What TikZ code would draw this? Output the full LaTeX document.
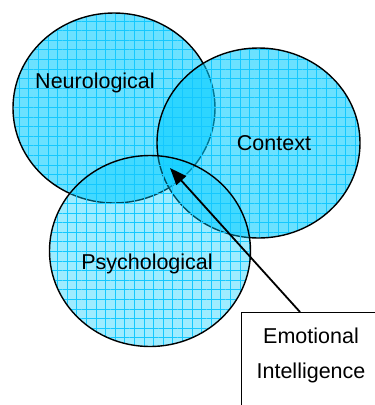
\documentclass[tikz,border=0pt]{standalone}
\usepackage{fontspec}
\setmainfont{Liberation Sans}
\usetikzlibrary{shapes.geometric,patterns.meta,arrows.meta}
\definecolor{cyanbase}{RGB}{0,204,255}
\definecolor{gridcyan}{RGB}{20,200,255}
\tikzset{
  circ/.style={ellipse, minimum width=202pt, minimum height=190pt, inner sep=0pt},
  circfill/.style={fill=cyanbase, fill opacity=#1},
  circgrid/.style={pattern={Hatch[angle=0, distance=9.6pt, line width=0.9pt]},
    pattern color=gridcyan},
  rim/.style={draw=black, line width=1.4pt},
  lbl/.style={font=\fontsize{21.5}{26}\selectfont, inner sep=0pt},
  eibox/.style={draw=black, line width=1.4pt, fill=white, minimum width=140pt,
    minimum height=100pt, anchor=north west, inner sep=0pt},
  pointer/.style={line width=1.8pt, -{Triangle[length=17pt, width=13pt]}}
}
\begin{document}
\begin{tikzpicture}[x=1pt, y=-1pt]
  \useasboundingbox (0,0) rectangle (375,405);
  \clip (0,0) rectangle (375,405);
  % the three overlapping domains
  \node[circ] (neuro) at (114,108) {};
  \fill[circfill=0.58] (neuro.center) ellipse [x radius=101, y radius=95];
  \fill[circgrid, fill opacity=0.6] (neuro.center) ellipse [x radius=101, y radius=95];
  \draw[rim] (neuro.center) ellipse [x radius=101, y radius=95];

  \node[circ] (context) at (258.5,143) {};
  \fill[circfill=0.58] (context.center) ellipse [x radius=101.5, y radius=95];
  \fill[circgrid, fill opacity=0.6] (context.center) ellipse [x radius=101.5, y radius=95];
  \draw[rim] (context.center) ellipse [x radius=101.5, y radius=95];

  \node[circ] (psych) at (150,251) {};
  \fill[circfill=0.38] (psych.center) ellipse [x radius=100.5, y radius=95.5];
  \fill[circgrid, fill opacity=0.6] (psych.center) ellipse [x radius=100.5, y radius=95.5];
  \draw[rim] (psych.center) ellipse [x radius=100.5, y radius=95.5];

  % domain labels
  \node[lbl] (tneuro) at (95,83) {Neurological};
  \node[lbl] (tcontext) at (274,143) {Context};
  \node[lbl] (tpsych) at (147,264) {Psychological};

  % callout box and pointer to the common region
  \node[eibox] (box) at (241,312) {};
  \node[lbl, align=center, font=\fontsize{21.5}{35}\selectfont] (tbox) at (311,355)
    {Emotional\\Intelligence};
  \coordinate (ei) at (170,168);
  \coordinate (boxtop) at (300,312);
  \draw[pointer] (boxtop) -- (ei);
\end{tikzpicture}
\end{document}
